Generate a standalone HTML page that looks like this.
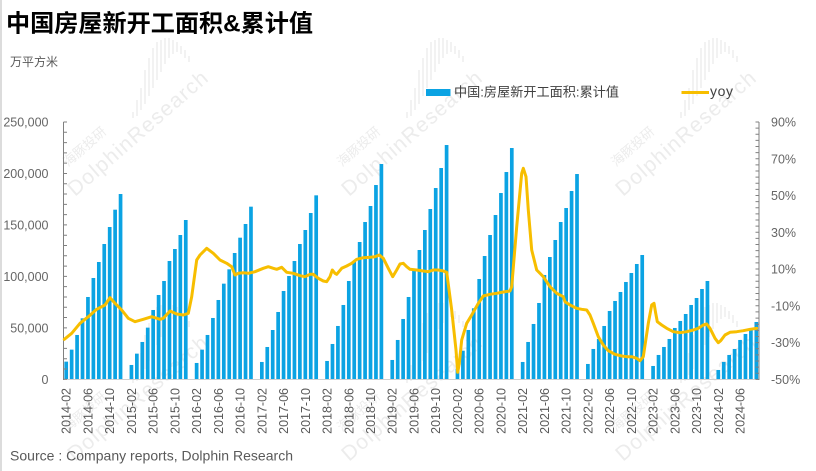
<!DOCTYPE html>
<html><head><meta charset="utf-8"><style>
html,body{margin:0;padding:0;background:#fff;}
svg{display:block;}
text{font-family:"Liberation Sans","Noto Sans CJK SC",sans-serif;}
</style></head><body>
<svg width="816" height="471" viewBox="0 0 816 471" xmlns="http://www.w3.org/2000/svg">
<rect x="0" y="0" width="816" height="471" fill="#fff"/>
<rect x="0" y="0" width="2" height="471" fill="#dcdcdc"/>

<!-- watermarks -->
<g fill="#ececec" font-size="21">
<text transform="translate(75,197) rotate(-41)" textLength="178">DolphinResearch</text>
<text transform="translate(349,197) rotate(-41)" textLength="178">DolphinResearch</text>
<text transform="translate(623,197) rotate(-41)" textLength="178">DolphinResearch</text>
<text transform="translate(75,462) rotate(-41)" textLength="178">DolphinResearch</text>
<text transform="translate(349,462) rotate(-41)" textLength="178">DolphinResearch</text>
<text transform="translate(623,462) rotate(-41)" textLength="178">DolphinResearch</text>
</g>
<g fill="#ececec" font-size="13">
<text transform="translate(68,167) rotate(-41)">海豚投研</text>
<text transform="translate(342,167) rotate(-41)">海豚投研</text>
<text transform="translate(616,167) rotate(-41)">海豚投研</text>
<text transform="translate(68,432) rotate(-41)">海豚投研</text>
<text transform="translate(342,432) rotate(-41)">海豚投研</text>
<text transform="translate(616,432) rotate(-41)">海豚投研</text>
</g>
<g stroke="#efefef" stroke-width="1.6">
<path d="M133 112V118M137 100V116M141 88V110M145 70V104M149 58V96M153 48V88M157 42V80M161 40V72M165 38V64M169 38V58M173 40V54M177 42V52M181 46V54M185 50V58M189 56V62"/>
<path transform="translate(274,0)" d="M133 112V118M137 100V116M141 88V110M145 70V104M149 58V96M153 48V88M157 42V80M161 40V72M165 38V64M169 38V58M173 40V54M177 42V52M181 46V54M185 50V58M189 56V62"/>
<path transform="translate(548,0)" d="M133 112V118M137 100V116M141 88V110M145 70V104M149 58V96M153 48V88M157 42V80M161 40V72M165 38V64M169 38V58M173 40V54M177 42V52M181 46V54M185 50V58M189 56V62"/>
<path transform="translate(0,265)" d="M133 112V118M137 100V116M141 88V110M145 70V104M149 58V96M153 48V88M157 42V80M161 40V72M165 38V64M169 38V58M173 40V54M177 42V52M181 46V54M185 50V58M189 56V62"/>
<path transform="translate(274,265)" d="M133 112V118M137 100V116M141 88V110M145 70V104M149 58V96M153 48V88M157 42V80M161 40V72M165 38V64M169 38V58M173 40V54M177 42V52M181 46V54M185 50V58M189 56V62"/>
<path transform="translate(548,265)" d="M133 112V118M137 100V116M141 88V110M145 70V104M149 58V96M153 48V88M157 42V80M161 40V72M165 38V64M169 38V58M173 40V54M177 42V52M181 46V54M185 50V58M189 56V62"/>
</g>

<!-- title -->
<text x="6" y="31.5" font-size="24" font-weight="700" fill="#000" textLength="307" lengthAdjust="spacingAndGlyphs">中国房屋新开工面积&amp;累计值</text>
<text x="10" y="66" font-size="12" fill="#595959" textLength="48">万平方米</text>

<!-- legend -->
<rect x="426" y="89" width="24.5" height="7" fill="#0BA3E3"/>
<text x="454" y="96.5" font-size="13" fill="#404040" textLength="165" lengthAdjust="spacingAndGlyphs">中国:房屋新开工面积:累计值</text>
<line x1="681.5" y1="92.5" x2="709" y2="92.5" stroke="#F7BE00" stroke-width="3"/>
<text x="710" y="96" font-size="14" fill="#404040" textLength="23">yoy</text>

<!-- bars -->
<g transform="translate(63.5,379.3) scale(5.434,-0.0010292)" fill="#0BA3E3">
<rect x="0.16" y="0" width="0.68" height="17160"/>
<rect x="1.16" y="0" width="0.68" height="28818"/>
<rect x="2.16" y="0" width="0.68" height="43070"/>
<rect x="3.16" y="0" width="0.68" height="59250"/>
<rect x="4.16" y="0" width="0.68" height="79980"/>
<rect x="5.16" y="0" width="0.68" height="98435"/>
<rect x="6.16" y="0" width="0.68" height="113980"/>
<rect x="7.16" y="0" width="0.68" height="131460"/>
<rect x="8.16" y="0" width="0.68" height="147970"/>
<rect x="9.16" y="0" width="0.68" height="164800"/>
<rect x="10.16" y="0" width="0.68" height="180030"/>

<rect x="12.16" y="0" width="0.68" height="13923"/>
<rect x="13.16" y="0" width="0.68" height="24930"/>
<rect x="14.16" y="0" width="0.68" height="36270"/>
<rect x="15.16" y="0" width="0.68" height="50190"/>
<rect x="16.16" y="0" width="0.68" height="67350"/>
<rect x="17.16" y="0" width="0.68" height="81920"/>
<rect x="18.16" y="0" width="0.68" height="95520"/>
<rect x="19.16" y="0" width="0.68" height="114950"/>
<rect x="20.16" y="0" width="0.68" height="126600"/>
<rect x="21.16" y="0" width="0.68" height="140200"/>
<rect x="22.16" y="0" width="0.68" height="154780"/>

<rect x="24.16" y="0" width="0.68" height="15870"/>
<rect x="25.16" y="0" width="0.68" height="28800"/>
<rect x="26.16" y="0" width="0.68" height="43070"/>
<rect x="27.16" y="0" width="0.68" height="59580"/>
<rect x="28.16" y="0" width="0.68" height="77060"/>
<rect x="29.16" y="0" width="0.68" height="92930"/>
<rect x="30.16" y="0" width="0.68" height="106850"/>
<rect x="31.16" y="0" width="0.68" height="122720"/>
<rect x="32.16" y="0" width="0.68" height="137600"/>
<rect x="33.16" y="0" width="0.68" height="150900"/>
<rect x="34.16" y="0" width="0.68" height="167730"/>

<rect x="36.16" y="0" width="0.68" height="16840"/>
<rect x="37.16" y="0" width="0.68" height="31400"/>
<rect x="38.16" y="0" width="0.68" height="47900"/>
<rect x="39.16" y="0" width="0.68" height="65400"/>
<rect x="40.16" y="0" width="0.68" height="85800"/>
<rect x="41.16" y="0" width="0.68" height="100380"/>
<rect x="42.16" y="0" width="0.68" height="114950"/>
<rect x="43.16" y="0" width="0.68" height="131460"/>
<rect x="44.16" y="0" width="0.68" height="145060"/>
<rect x="45.16" y="0" width="0.68" height="161580"/>
<rect x="46.16" y="0" width="0.68" height="178740"/>

<rect x="48.16" y="0" width="0.68" height="17810"/>
<rect x="49.16" y="0" width="0.68" height="34320"/>
<rect x="50.16" y="0" width="0.68" height="51810"/>
<rect x="51.16" y="0" width="0.68" height="72210"/>
<rect x="52.16" y="0" width="0.68" height="95520"/>
<rect x="53.16" y="0" width="0.68" height="114300"/>
<rect x="54.16" y="0" width="0.68" height="133400"/>
<rect x="55.16" y="0" width="0.68" height="152830"/>
<rect x="56.16" y="0" width="0.68" height="168380"/>
<rect x="57.16" y="0" width="0.68" height="188770"/>
<rect x="58.16" y="0" width="0.68" height="209180"/>

<rect x="60.16" y="0" width="0.68" height="18780"/>
<rect x="61.16" y="0" width="0.68" height="38210"/>
<rect x="62.16" y="0" width="0.68" height="58610"/>
<rect x="63.16" y="0" width="0.68" height="79980"/>
<rect x="64.16" y="0" width="0.68" height="105230"/>
<rect x="65.16" y="0" width="0.68" height="125630"/>
<rect x="66.16" y="0" width="0.68" height="145060"/>
<rect x="67.16" y="0" width="0.68" height="165460"/>
<rect x="68.16" y="0" width="0.68" height="185860"/>
<rect x="69.16" y="0" width="0.68" height="205290"/>
<rect x="70.16" y="0" width="0.68" height="227630"/>

<rect x="72.16" y="0" width="0.68" height="10370"/>
<rect x="73.16" y="0" width="0.68" height="27790"/>
<rect x="74.16" y="0" width="0.68" height="47920"/>
<rect x="75.16" y="0" width="0.68" height="69000"/>
<rect x="76.16" y="0" width="0.68" height="97460"/>
<rect x="77.16" y="0" width="0.68" height="119800"/>
<rect x="78.16" y="0" width="0.68" height="140200"/>
<rect x="79.16" y="0" width="0.68" height="159630"/>
<rect x="80.16" y="0" width="0.68" height="181000"/>
<rect x="81.16" y="0" width="0.68" height="201400"/>
<rect x="82.16" y="0" width="0.68" height="224720"/>

<rect x="84.16" y="0" width="0.68" height="16840"/>
<rect x="85.16" y="0" width="0.68" height="36270"/>
<rect x="86.16" y="0" width="0.68" height="53750"/>
<rect x="87.16" y="0" width="0.68" height="74150"/>
<rect x="88.16" y="0" width="0.68" height="101350"/>
<rect x="89.16" y="0" width="0.68" height="118830"/>
<rect x="90.16" y="0" width="0.68" height="135350"/>
<rect x="91.16" y="0" width="0.68" height="152830"/>
<rect x="92.16" y="0" width="0.68" height="166430"/>
<rect x="93.16" y="0" width="0.68" height="182950"/>
<rect x="94.16" y="0" width="0.68" height="199460"/>

<rect x="96.16" y="0" width="0.68" height="14900"/>
<rect x="97.16" y="0" width="0.68" height="29470"/>
<rect x="98.16" y="0" width="0.68" height="39180"/>
<rect x="99.16" y="0" width="0.68" height="51810"/>
<rect x="100.16" y="0" width="0.68" height="66380"/>
<rect x="101.16" y="0" width="0.68" height="76100"/>
<rect x="102.16" y="0" width="0.68" height="84840"/>
<rect x="103.16" y="0" width="0.68" height="94550"/>
<rect x="104.16" y="0" width="0.68" height="103290"/>
<rect x="105.16" y="0" width="0.68" height="112040"/>
<rect x="106.16" y="0" width="0.68" height="120780"/>

<rect x="108.16" y="0" width="0.68" height="12950"/>
<rect x="109.16" y="0" width="0.68" height="23640"/>
<rect x="110.16" y="0" width="0.68" height="31410"/>
<rect x="111.16" y="0" width="0.68" height="39180"/>
<rect x="112.16" y="0" width="0.68" height="49870"/>
<rect x="113.16" y="0" width="0.68" height="56670"/>
<rect x="114.16" y="0" width="0.68" height="63460"/>
<rect x="115.16" y="0" width="0.68" height="72210"/>
<rect x="116.16" y="0" width="0.68" height="79000"/>
<rect x="117.16" y="0" width="0.68" height="87750"/>
<rect x="118.16" y="0" width="0.68" height="95520"/>

<rect x="120.16" y="0" width="0.68" height="9070"/>
<rect x="121.16" y="0" width="0.68" height="16840"/>
<rect x="122.16" y="0" width="0.68" height="23640"/>
<rect x="123.16" y="0" width="0.68" height="29470"/>
<rect x="124.16" y="0" width="0.68" height="38210"/>
<rect x="125.16" y="0" width="0.68" height="44040"/>
<rect x="126.16" y="0" width="0.68" height="48890"/>
<rect x="127.16" y="0" width="0.68" height="55690"/>
</g>

<!-- axes -->
<line x1="63.5" y1="379.5" x2="759" y2="379.5" stroke="#d0d0d0" stroke-width="1"/>
<line x1="63.5" y1="122" x2="63.5" y2="380" stroke="#808080" stroke-width="1"/>
<line x1="65.25" y1="121.5" x2="65.25" y2="380" stroke="#808080" stroke-width="3.5" stroke-dasharray="1 9.292"/>
<line x1="759" y1="122" x2="759" y2="380" stroke="#808080" stroke-width="1"/>
<line x1="757.25" y1="121.5" x2="757.25" y2="380" stroke="#808080" stroke-width="3.5" stroke-dasharray="1 5.127"/>

<!-- yoy line -->
<polyline fill="none" stroke="#F7BE00" stroke-width="3" stroke-linejoin="round" stroke-linecap="round" points="64.3,339.3 71.7,333.3 80,323.3 88.3,316.7 96.7,309.3 105,305 110,297.7 115,303.3 121.7,310 128.3,318.3 135,321.7 143.3,319.3 151.7,316.7 160,319.3 163.3,318.3 170,311 176.7,314 183.3,315 188.3,313.3 191.7,296.7 196.7,260 200,255 206.7,248.3 213.3,253.3 220,260 226.7,263.3 231.7,266.7 235,275 238.3,273.3 243.3,272.7 248.3,273.3 255,271.7 263.3,268.3 268.3,266.7 273.3,268.3 276.7,269.3 281.7,267.3 286.7,272.3 293.3,273.3 300,275.7 305,276.7 310,274.3 313.3,274.3 318.3,278.3 323.3,281 326.7,281.7 330,276.7 332.3,270 335,273.3 336.7,274.3 341.7,268.3 346.7,266 351.7,263.3 356.7,259.3 363.3,257.7 370,257.3 375,256.7 379.3,255 383.3,258.3 388.3,268.3 392.7,276.7 396.7,270 400,264 403.3,263.3 406.7,266.7 410,269.3 416.7,270 423.3,271 428.3,271.7 433.3,270 438.3,270 443.3,271 446.7,272.3 451.7,310 456,350 457.7,372.3 459.3,363.3 461.7,340 466.7,323.3 471.7,315 478.3,303.3 483.3,296 490,294.3 496.7,293.3 503.3,292 510,291 511.7,286.7 516.7,226.7 521.7,173.3 523.3,168.3 526,176.7 528.3,210 531.7,250 536.7,270 543.3,276.7 550,286.7 556.7,293.3 563.3,296.7 565,301.7 570,305 576.7,308.3 581.7,309.3 586.7,310 590,315 593.3,323.3 598.3,336.7 603.3,345 608.3,350.7 615,354.3 621.7,356 626.7,356.7 631.7,356.7 636.7,358.3 640,360.7 643.3,356.7 648.3,323.3 651.7,305 654,303.3 655.7,313.3 657.3,321.7 661.7,325 666.7,328.3 673.3,331.7 680,332.7 686.7,331.7 693.3,330 698.3,328.3 703.3,325 706.7,324 710,328.3 715,338.3 718.3,342.7 720.7,340.7 725,335 730,332.3 736.7,331.7 743.3,330.7 750,329.3 756.7,328.3"/>

<!-- left axis labels -->
<g font-size="12.5" fill="#666666" text-anchor="end">
<text x="48.5" y="126.5">250,000</text>
<text x="48.5" y="178">200,000</text>
<text x="48.5" y="229.4">150,000</text>
<text x="48.5" y="280.9">100,000</text>
<text x="48.5" y="332.3">50,000</text>
<text x="48.5" y="383.8">0</text>
</g>
<!-- right axis labels -->
<g font-size="12.5" fill="#666666">
<text x="771" y="126.5">90%</text>
<text x="771" y="163.3">70%</text>
<text x="771" y="200">50%</text>
<text x="771" y="236.8">30%</text>
<text x="771" y="273.6">10%</text>
<text x="771" y="310.3">-10%</text>
<text x="771" y="347.1">-30%</text>
<text x="771" y="383.8">-50%</text>
</g>

<!-- x labels -->
<g font-size="12.5" fill="#595959" text-anchor="end">
<text transform="translate(70.7,388) rotate(-90)">2014-02</text>
<text transform="translate(92.4,388) rotate(-90)">2014-06</text>
<text transform="translate(114.2,388) rotate(-90)">2014-10</text>
<text transform="translate(135.9,388) rotate(-90)">2015-02</text>
<text transform="translate(157.6,388) rotate(-90)">2015-06</text>
<text transform="translate(179.4,388) rotate(-90)">2015-10</text>
<text transform="translate(201.1,388) rotate(-90)">2016-02</text>
<text transform="translate(222.9,388) rotate(-90)">2016-06</text>
<text transform="translate(244.6,388) rotate(-90)">2016-10</text>
<text transform="translate(266.3,388) rotate(-90)">2017-02</text>
<text transform="translate(288.1,388) rotate(-90)">2017-06</text>
<text transform="translate(309.8,388) rotate(-90)">2017-10</text>
<text transform="translate(331.5,388) rotate(-90)">2018-02</text>
<text transform="translate(353.3,388) rotate(-90)">2018-06</text>
<text transform="translate(375,388) rotate(-90)">2018-10</text>
<text transform="translate(396.7,388) rotate(-90)">2019-02</text>
<text transform="translate(418.5,388) rotate(-90)">2019-06</text>
<text transform="translate(440.2,388) rotate(-90)">2019-10</text>
<text transform="translate(461.9,388) rotate(-90)">2020-02</text>
<text transform="translate(483.7,388) rotate(-90)">2020-06</text>
<text transform="translate(505.4,388) rotate(-90)">2020-10</text>
<text transform="translate(527.2,388) rotate(-90)">2021-02</text>
<text transform="translate(548.9,388) rotate(-90)">2021-06</text>
<text transform="translate(570.6,388) rotate(-90)">2021-10</text>
<text transform="translate(592.4,388) rotate(-90)">2022-02</text>
<text transform="translate(614.1,388) rotate(-90)">2022-06</text>
<text transform="translate(635.8,388) rotate(-90)">2022-10</text>
<text transform="translate(657.6,388) rotate(-90)">2023-02</text>
<text transform="translate(679.3,388) rotate(-90)">2023-06</text>
<text transform="translate(701,388) rotate(-90)">2023-10</text>
<text transform="translate(722.8,388) rotate(-90)">2024-02</text>
<text transform="translate(744.5,388) rotate(-90)">2024-06</text>
</g>

<!-- source -->
<text x="10" y="460.5" font-size="14" fill="#595959" textLength="283">Source : Company reports, Dolphin Research</text>
</svg>
</body></html>
